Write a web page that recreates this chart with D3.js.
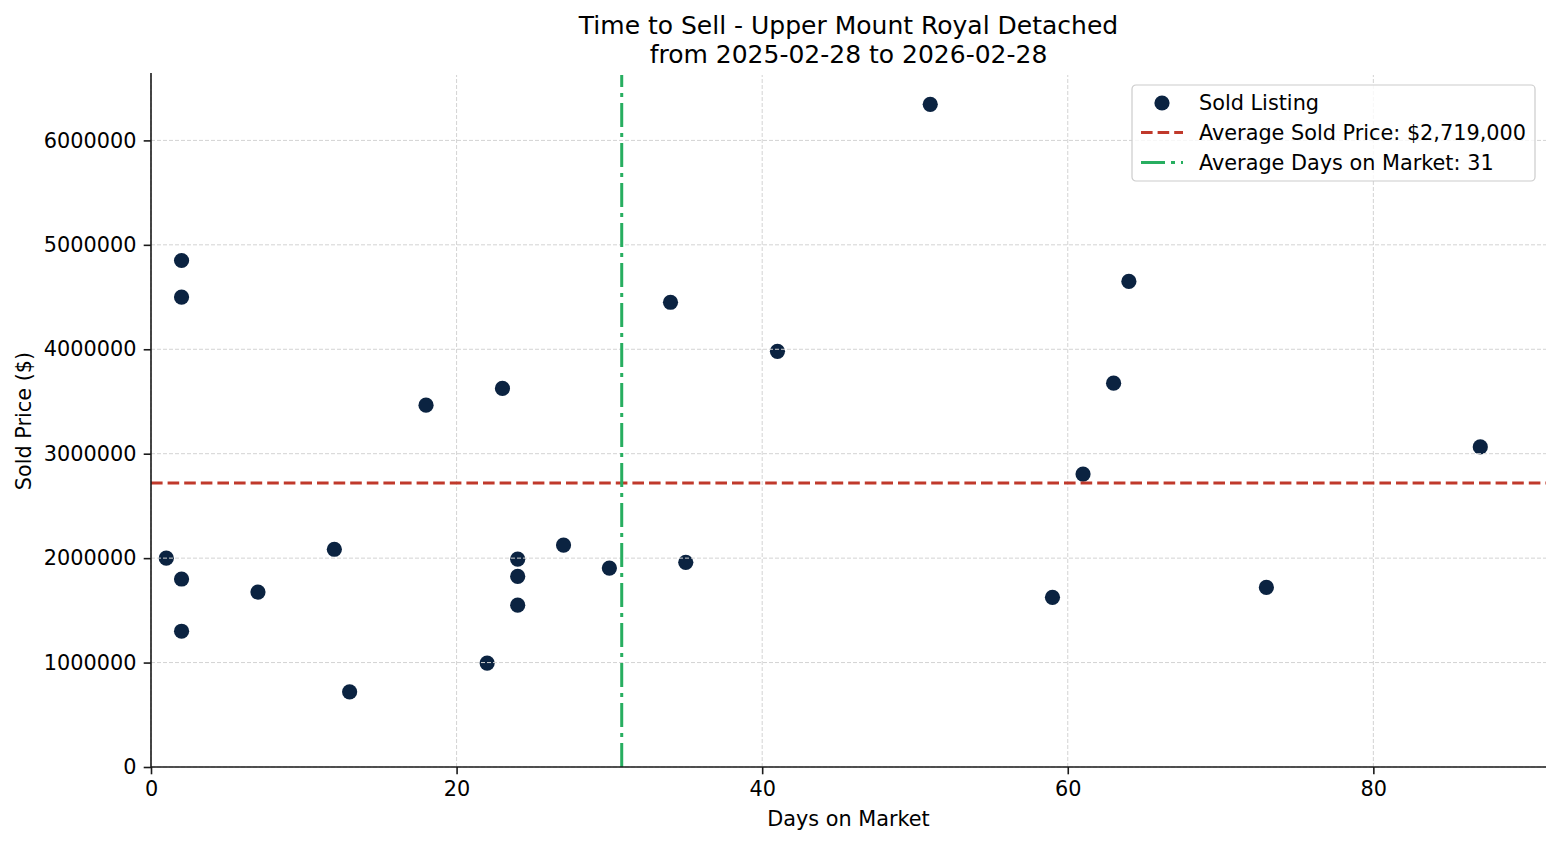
<!DOCTYPE html>
<html>
<head>
  <meta charset="utf-8">
  <title>Time to Sell - Upper Mount Royal Detached</title>
  <script src="https://cdn.jsdelivr.net/npm/d3@7"></script>
  <style>
    body { margin: 0; background: #fff; }
    svg { display: block; font-family: "DejaVu Sans", sans-serif; }
  </style>
</head>
<body>
  <div id="chart"></div>
  <script>
    // sold listings
    var days = [1, 2, 2, 2, 2, 7, 12, 13, 18, 22, 23, 24, 24, 24, 27, 30, 34, 35, 41, 51, 59, 61, 63, 64, 73, 87];
    var prices = [2000000, 4850000, 4500000, 1800000, 1300000, 1675000, 2085000, 720000, 3465000, 995000,
                  3625000, 1990000, 1825000, 1550000, 2125000, 1905000, 4450000, 1960000, 3980000, 6345000,
                  1625000, 2805000, 3675000, 4650000, 1720000, 3065000];
    var xTicks = [0, 20, 40, 60, 80];
    var yTicks = [0, 1000000, 2000000, 3000000, 4000000, 5000000, 6000000];
    var titleLines = ["Time to Sell - Upper Mount Royal Detached", "from 2025-02-28 to 2026-02-28"];

    var width = 1560, height = 845;
    var margin = {top: 75, right: 14, bottom: 78, left: 151};
    var fontSize = 20.8;

    var points = days.map(function(d, i) { return {days: d, price: prices[i]}; });
    var avgPrice = d3.mean(prices);
    var avgDays = d3.mean(days);

    var legendItems = [
      {type: "dot", label: "Sold Listing"},
      {type: "price", label: "Average Sold Price: $" + d3.format(",")(Math.round(avgPrice / 1000) * 1000)},
      {type: "days", label: "Average Days on Market: " + Math.round(avgDays)}
    ];

    // matplotlib style 5% margins, lower limits pinned at 0
    var xMax = d3.max(days) + 0.05 * (d3.max(days) - d3.min(days));
    var yMax = d3.max(prices) + 0.05 * (d3.max(prices) - d3.min(prices));

    var x = d3.scaleLinear()
        .domain([0, xMax])
        .range([margin.left, width - margin.right]);
    var y = d3.scaleLinear()
        .domain([0, yMax])
        .range([height - margin.bottom, margin.top]);

    var svg = d3.select("#chart").append("svg")
        .attr("width", width)
        .attr("height", height);

    // title
    svg.append("text")
        .attr("text-anchor", "middle")
        .style("font-size", "25px")
        .selectAll("tspan")
        .data(titleLines)
      .enter().append("tspan")
        .attr("x", (margin.left + width - margin.right) / 2)
        .attr("y", function(d, i) { return 34 + i * 28.5; })
        .text(function(d) { return d; });

    // points (grid is drawn over them, as in matplotlib)
    svg.append("g")
        .selectAll("circle")
        .data(points)
      .enter().append("circle")
        .attr("cx", function(d) { return x(d.days); })
        .attr("cy", function(d) { return y(d.price); })
        .attr("r", 7.6)
        .attr("fill", "#0b2341");

    // grid
    var grid = svg.append("g")
        .attr("stroke", "#d3d3d3")
        .attr("stroke-width", 1)
        .attr("stroke-dasharray", "4,2");
    grid.selectAll("line.gx")
        .data(xTicks)
      .enter().append("line")
        .attr("class", "gx")
        .attr("x1", function(d) { return x(d); })
        .attr("x2", function(d) { return x(d); })
        .attr("y1", y.range()[0])
        .attr("y2", y.range()[1]);
    grid.selectAll("line.gy")
        .data(yTicks)
      .enter().append("line")
        .attr("class", "gy")
        .attr("x1", x.range()[0])
        .attr("x2", x.range()[1])
        .attr("y1", function(d) { return y(d); })
        .attr("y2", function(d) { return y(d); });

    // average lines
    svg.append("line")
        .attr("x1", x.range()[0])
        .attr("x2", x.range()[1])
        .attr("y1", y(avgPrice))
        .attr("y2", y(avgPrice))
        .attr("stroke", "#c0392b")
        .attr("stroke-width", 3)
        .attr("stroke-dasharray", "11.6,5");
    svg.append("line")
        .attr("x1", x(avgDays))
        .attr("x2", x(avgDays))
        .attr("y1", y.range()[0])
        .attr("y2", y.range()[1])
        .attr("stroke", "#27ae60")
        .attr("stroke-width", 3)
        .attr("stroke-dasharray", "24,6,4,6");

    // axes
    var xAxis = d3.axisBottom(x)
        .tickValues(xTicks)
        .tickSize(7.3)
        .tickPadding(7.3)
        .tickFormat(d3.format("d"));
    var yAxis = d3.axisLeft(y)
        .tickValues(yTicks)
        .tickSize(7.3)
        .tickPadding(7.3)
        .tickFormat(d3.format("d"));

    var gx = svg.append("g")
        .attr("transform", "translate(0," + (height - margin.bottom) + ")")
        .call(xAxis);
    var gy = svg.append("g")
        .attr("transform", "translate(" + margin.left + ",0)")
        .call(yAxis);

    [gx, gy].forEach(function(g) {
      g.select(".domain")
          .attr("d", g === gx
            ? "M" + x.range()[0] + ",0H" + x.range()[1]
            : "M0," + y.range()[0] + "V" + (y.range()[1] - 2))
          .attr("stroke", "#1a1a1a")
          .attr("stroke-width", 1.6);
      g.selectAll(".tick line")
          .attr("stroke", "#1a1a1a")
          .attr("stroke-width", 1.6);
      g.selectAll(".tick text")
          .attr("fill", "#000")
          .style("font-size", fontSize + "px")
          .style("font-family", "DejaVu Sans");
    });

    // axis labels
    svg.append("text")
        .attr("x", (margin.left + width - margin.right) / 2)
        .attr("y", 826)
        .attr("text-anchor", "middle")
        .style("font-size", fontSize + "px")
        .text("Days on Market");
    svg.append("text")
        .attr("transform", "translate(31," + ((margin.top + height - margin.bottom) / 2) + ") rotate(-90)")
        .attr("text-anchor", "middle")
        .style("font-size", fontSize + "px")
        .text("Sold Price ($)");

    // legend
    var legend = svg.append("g")
        .attr("transform", "translate(1132,85)");
    legend.append("rect")
        .attr("width", 403)
        .attr("height", 96)
        .attr("rx", 4)
        .attr("fill", "#fff")
        .attr("fill-opacity", 0.8)
        .attr("stroke", "#cccccc")
        .attr("stroke-width", 1.2);

    var row = legend.selectAll("g.item")
        .data(legendItems)
      .enter().append("g")
        .attr("class", "item")
        .attr("transform", function(d, i) { return "translate(0," + (18 + i * 30) + ")"; });

    row.filter(function(d) { return d.type === "dot"; })
      .append("circle")
        .attr("cx", 30)
        .attr("cy", 0)
        .attr("r", 7.6)
        .attr("fill", "#0b2341");
    row.filter(function(d) { return d.type !== "dot"; })
      .append("line")
        .attr("x1", 9)
        .attr("x2", 51)
        .attr("y1", -0.5)
        .attr("y2", -0.5)
        .attr("stroke", function(d) { return d.type === "price" ? "#c0392b" : "#27ae60"; })
        .attr("stroke-width", 3)
        .attr("stroke-dasharray", function(d) { return d.type === "price" ? "11.6,5" : "24,6,4,6"; });
    row.append("text")
        .attr("x", 67)
        .attr("y", 6.5)
        .style("font-size", fontSize + "px")
        .text(function(d) { return d.label; });
  </script>
</body>
</html>
